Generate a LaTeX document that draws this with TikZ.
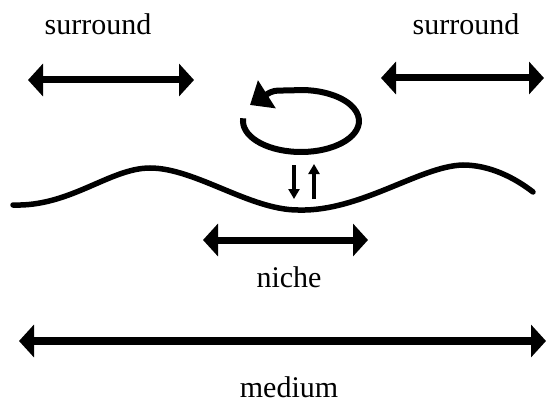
\documentclass[tikz,border=0pt]{standalone}
\usepackage{fontspec}
\setmainfont{Liberation Serif}
\usetikzlibrary{arrows.meta}
\tikzset{
  span/.style={line width=7pt,{Triangle[length=15pt,width=32pt]}-{Triangle[length=15pt,width=32pt]}},
  flux/.style={line width=3.5pt,-{Triangle[length=10pt,width=11pt]}},
  label/.style={anchor=base,font=\fontsize{30}{36}\selectfont,inner sep=0pt}
}
\begin{document}
\begin{tikzpicture}[x=1pt,y=-1pt]
    \useasboundingbox (0,0) rectangle (547,404);
    % labels
    \node[label] (sl) at (98,35) {surround};
    \node[label] (sr) at (466,35) {surround};
    \node[label] (ni) at (289,287) {niche};
    \node[label] (me) at (289,397) {medium};
    % arrow ends
    \coordinate (sla) at (28,80);   \coordinate (slb) at (194,80);
    \coordinate (sra) at (381,78);  \coordinate (srb) at (544,78);
    \coordinate (nia) at (203,240); \coordinate (nib) at (368,240);
    \coordinate (mea) at (19,341);  \coordinate (meb) at (546,341);
    \draw[span] (sla)--(slb);
    \draw[span] (sra)--(srb);
    \draw[span] (nia)--(nib);
    \draw[span,line width=8pt] (mea)--(meb);
    % surface
    \coordinate (w0) at (13,205);  \coordinate (w1) at (150,168);
    \coordinate (w2) at (298,210); \coordinate (w3) at (463,165);
    \coordinate (w4) at (533,192);
    \draw[line width=5.5pt,line cap=round] (w0) .. controls (70,207) and (110,168) .. (w1)
      .. controls (195,168) and (250,210) .. (w2)
      .. controls (360,212) and (420,166) .. (w3)
      .. controls (490,165) and (515,178) .. (w4);
    % exchange
    \coordinate (dn) at (294,165); \coordinate (dnb) at (294,199);
    \coordinate (up) at (314,199); \coordinate (upb) at (314,164);
    \draw[flux] (dn)--(dnb);
    \draw[flux] (up)--(upb);
    % cycle
    \coordinate (cy) at (301,121);
    \coordinate (cyt) at (250,105);
    \draw[line width=6pt,-{Triangle[length=20pt,width=32pt]}] ([shift={(185:58 and 31)}]cy)
      arc[start angle=185,end angle=-100,x radius=58,y radius=31] .. controls +(-18,0) .. (cyt);
\end{tikzpicture}
\end{document}
